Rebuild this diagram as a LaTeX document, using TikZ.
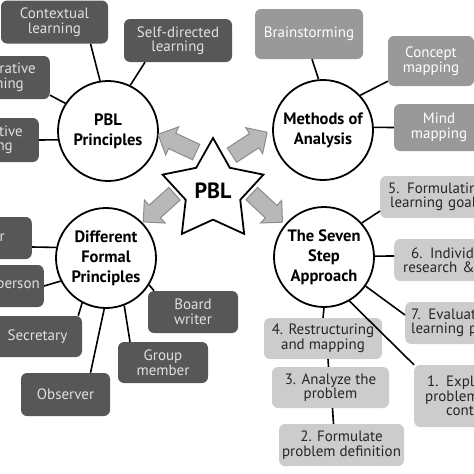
\documentclass[tikz,border=0pt]{standalone}
\usepackage{fontspec}
\setmainfont{PT Sans}
\usepackage{tikz}
\usetikzlibrary{shapes.geometric, shapes.arrows}
\tikzstyle{hub} = [circle, draw=black, line width=1.8pt, fill=white, minimum size=100pt, inner sep=0pt, align=center, font=\bfseries\fontsize{16.5}{20}\selectfont]
\tikzstyle{tag} = [rectangle, rounded corners=6pt, inner sep=0pt, align=center, font=\fontsize{15}{14.5}\selectfont]
\tikzstyle{darkbox} = [tag, fill=black!66, text=black!12]
\tikzstyle{midbox} = [tag, fill=black!40, text=white]
\tikzstyle{lightbox} = [tag, fill=black!20, text=black!85]
\tikzstyle{cutleft} = [anchor=east, text width=80pt, align=right]
\tikzstyle{cutright} = [anchor=west, text width=90pt, align=left]
\tikzstyle{link} = [line width=1.6pt, draw=black]
\tikzstyle{bigarrow} = [single arrow, draw=black!45, fill=black!28, line width=1pt, minimum height=42pt, inner sep=8pt, single arrow head extend=7pt]

\begin{document}
\begin{tikzpicture}[x=1pt, y=-1pt]
		\useasboundingbox (0,0) rectangle (474,474);
		\clip (0,0) rectangle (474,474);
		\node(princ) [hub] at (108,131) {PBL\\Principles};
		\node(methods) [hub] at (323,130) {Methods of\\Analysis};
		\node(formal) [hub] at (106,258) {Different\\Formal\\Principles};
		\node(seven) [hub] at (324,257) {The Seven\\Step\\Approach};
		\node(a1) [bigarrow, rotate=155] at (181,145) {};
		\node(a2) [bigarrow, rotate=33] at (246,146) {};
		\node(a3) [bigarrow, rotate=222] at (162,205) {};
		\node(a4) [bigarrow, rotate=-43] at (264,205) {};
		\node(pbl) [star, star points=5, star point ratio=1.85, minimum size=106pt, draw=black, line width=1.8pt, fill=white, inner sep=0pt, font=\bfseries\fontsize{22}{22}\selectfont] at (213,191) {PBL};
		\node(ctx) [darkbox, minimum width=107pt, minimum height=43pt] at (54.5,22) {Contextual\\learning};
		\node(selfdir) [darkbox, minimum width=108pt, minimum height=43pt] at (178,40.5) {Self-directed\\learning};
		\node(collab) [darkbox, cutleft, inner xsep=14pt, minimum height=43pt] at (50,77.5) {rative\\ning\hspace*{12pt}};
		\node(constr) [darkbox, cutleft, inner xsep=16pt, minimum height=44pt] at (39,140) {tive\\ng\hspace*{10pt}};
		\node(tutor) [darkbox, cutleft, inner xsep=27pt, minimum height=42pt] at (32,238) {r};
		\node(chair) [darkbox, cutleft, inner xsep=4pt, minimum height=42pt] at (44,286) {person};
		\node(secr) [darkbox, minimum width=89pt, minimum height=41pt] at (37.5,336.5) {Secretary};
		\node(obs) [darkbox, minimum width=89pt, minimum height=43pt] at (65.5,394.5) {Observer};
		\node(group) [darkbox, minimum width=90pt, minimum height=41pt] at (163,362.5) {Group\\member};
		\node(board) [darkbox, minimum width=90pt, minimum height=42pt] at (193,312) {Board\\writer};
		\node(brain) [midbox, minimum width=108pt, minimum height=50pt] at (309,34) {Brainstorming};
		\node(concept) [midbox, minimum width=86pt, minimum height=50pt] at (431,61) {Concept\\mapping};
		\node(mind) [midbox, minimum width=90pt, minimum height=47pt] at (439,127.5) {Mind\\mapping};
		\node(s5) [lightbox, cutright, inner xsep=8pt, minimum height=42pt] at (380,197) {5. Formulatin\\\hspace*{2pt}learning goal};
		\node(s6) [lightbox, cutright, inner xsep=9pt, minimum height=42pt] at (394,260) {\hspace*{8pt}6. Individ\\research \& s};
		\node(s7) [lightbox, cutright, inner xsep=6pt, minimum height=42pt] at (405,323) {7. Evaluat\\learning p};
		\node(s1) [lightbox, cutright, inner xsep=11pt, minimum height=62pt] at (414,396) {\hspace*{2pt}1. Explo\\problem\\\hspace*{21pt}cont};
		\node(s4) [lightbox, minimum width=118pt, minimum height=41pt] at (323,338.5) {4. Restructuring\\and mapping};
		\node(s3) [lightbox, minimum width=117pt, minimum height=41pt] at (330.5,387.5) {3. Analyze the\\problem};
		\node(s2) [lightbox, minimum width=125pt, minimum height=42pt] at (341.5,445) {2. Formulate\\problem definition};
		\draw [link] ([xshift=36pt]ctx.south) -- (princ.99);
		\draw [link] ([xshift=-33pt]selfdir.south) -- (princ.64);
		\draw [link] ([yshift=4pt]collab.south east) -- (princ.147);
		\draw [link] (constr.east) -- (princ.190);
		\draw [link] ([xshift=3pt]brain.south) -- (methods.95);
		\draw [link] ([yshift=5pt]concept.south west) -- (methods.43);
		\draw [link] (mind.west) -- (methods.3);
		\draw [link] ([yshift=-9pt]tutor.east) -- (formal.168);
		\draw [link] (chair.east) -- (formal.207);
		\draw [link] ([xshift=-4pt]secr.north east) -- (formal.242);
		\draw [link] ([xshift=25pt]obs.north) -- (formal.268);
		\draw [link] ([xshift=-33pt]group.north) -- (formal.291);
		\draw [link] ([xshift=-39pt]board.north) -- (formal.328);
		\draw [link] ([yshift=-14pt]s5.west) -- (seven.42);
		\draw [link] ([yshift=4pt]s6.west) -- (seven.1);
		\draw [link] ([yshift=8pt]s7.west) -- (seven.325);
		\draw [link] (s1.north west) -- (seven.300);
		\draw [link] (s4.north) -- (seven.south);
		\draw [link] ([xshift=5pt]s4.south) -- ([xshift=-2pt]s3.north);
		\draw [link] ([xshift=2pt]s3.south) -- ([xshift=-8pt]s2.north);
	\end{tikzpicture}
\end{document}
